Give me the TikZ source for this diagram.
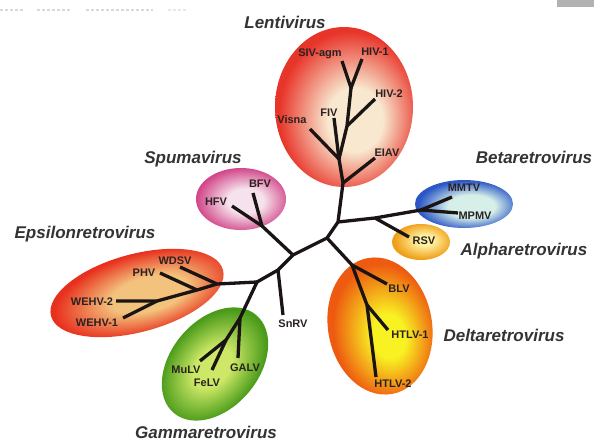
\documentclass[tikz,border=0pt]{standalone}
\usepackage{fontspec}
\setmainfont{Liberation Sans}
\definecolor{treecol}{HTML}{1A1414}
\definecolor{labcol}{HTML}{2A2222}
\definecolor{grpcol}{HTML}{333333}
\definecolor{lentiOut}{HTML}{E8352A}
\definecolor{lentiIn}{HTML}{F8E8CF}
\definecolor{spumaOut}{HTML}{D2488A}
\definecolor{spumaIn}{HTML}{F6E2EC}
\definecolor{betaOut}{HTML}{2A56C6}
\definecolor{betaIn}{HTML}{D6EFE8}
\definecolor{alphaOut}{HTML}{F0A018}
\definecolor{alphaIn}{HTML}{FFF2A4}
\definecolor{deltaOut}{HTML}{EE5A10}
\definecolor{deltaIn}{HTML}{F8F222}
\definecolor{epsOut}{HTML}{E8301E}
\definecolor{epsIn}{HTML}{F3C27C}
\definecolor{gamOut}{HTML}{4A9A1A}
\definecolor{gamIn}{HTML}{CCE866}
\pgfdeclareradialshading{lentish}{\pgfpoint{5bp}{-5bp}}{color(0bp)=(lentiIn); color(10bp)=(lentiIn); color(26bp)=(lentiOut); color(50bp)=(lentiOut)}
\pgfdeclareradialshading{spumash}{\pgfpoint{3bp}{-2bp}}{color(0bp)=(spumaIn); color(10bp)=(spumaIn); color(26bp)=(spumaOut); color(50bp)=(spumaOut)}
\pgfdeclareradialshading{betash}{\pgfpoint{5bp}{-3bp}}{color(0bp)=(betaIn); color(12bp)=(betaIn); color(26bp)=(betaOut); color(50bp)=(betaOut)}
\pgfdeclareradialshading{alphash}{\pgfpoint{4bp}{3bp}}{color(0bp)=(alphaIn); color(7bp)=(alphaIn); color(25bp)=(alphaOut); color(50bp)=(alphaOut)}
\pgfdeclareradialshading{deltash}{\pgfpoint{4bp}{-5bp}}{color(0bp)=(deltaIn); color(8bp)=(deltaIn); color(25bp)=(deltaOut); color(50bp)=(deltaOut)}
\pgfdeclareradialshading{epssh}{\pgfpoint{4bp}{-3bp}}{color(0bp)=(epsIn); color(11bp)=(epsIn); color(26bp)=(epsOut); color(50bp)=(epsOut)}
\pgfdeclareradialshading{gamsh}{\pgfpoint{-2bp}{0bp}}{color(0bp)=(gamIn); color(9bp)=(gamIn); color(25bp)=(gamOut); color(50bp)=(gamOut)}
\tikzset{
  lab/.style={font=\fontsize{11}{12}\selectfont\bfseries, text=labcol, inner sep=0pt, text height=8pt, text depth=0pt},
  grp/.style={font=\fontsize{17}{19}\selectfont\bfseries\itshape, text=grpcol, inner sep=0pt, text height=12pt, text depth=0pt},
  branch/.style={draw=treecol, line width=3.3pt, line join=round},
  faint/.style={draw=gray!30, line width=2pt, dash pattern=on 3pt off 2pt}
}
\begin{document}
\begin{tikzpicture}[x=1pt, y=-1pt]
\useasboundingbox (0,0) rectangle (594,441);
\fill[white] (0,0) rectangle (594,441);
% top fragments
\fill[gray!60] (557,0) rectangle (594,7);
\draw[faint] (0,10) -- (24,10);
\draw[faint] (37,10) -- (72,10);
\draw[faint] (86,10) -- (153,10);
\draw[faint, draw=gray!18] (168,10) -- (188,10);
% coloured clades
\shade[shading=lentish] (344,107) ellipse [x radius=69, y radius=80];
\shade[shading=spumash] (241,199) ellipse [x radius=45, y radius=31];
\shade[shading=betash] (464,204) ellipse [x radius=49, y radius=24];
\shade[shading=alphash] (421,242) ellipse [x radius=29, y radius=18];
\begin{scope}[transform canvas={rotate around={10:(380,326)}}]
\shade[shading=deltash] (380,326) ellipse [x radius=52, y radius=69];
\end{scope}
\begin{scope}[transform canvas={rotate around={15:(137,293)}}]
\shade[shading=epssh] (137,293) ellipse [x radius=89, y radius=39];
\end{scope}
\begin{scope}[transform canvas={rotate around={50:(215,364)}}]
\shade[shading=gamsh] (215,364) ellipse [x radius=64, y radius=44];
\end{scope}
% tree coordinates
\coordinate (tSIV) at (342,61);
\coordinate (tHIV1) at (362,59);
\coordinate (nHIV) at (351,88);
\coordinate (tHIV2) at (375,99);
\coordinate (nH2) at (347,126);
\coordinate (tFIV) at (334,118);
\coordinate (tVisna) at (310,129);
\coordinate (nVF) at (339,159);
\coordinate (tEIAV) at (375,158);
\coordinate (nE) at (343,183);
\coordinate (c1) at (338,222);
\coordinate (nR) at (375,218);
\coordinate (tRSV) at (409,237);
\coordinate (nB) at (421,210);
\coordinate (tMMTV) at (452,197);
\coordinate (tMPMV) at (458,213);
\coordinate (c2) at (327,238);
\coordinate (nD1) at (352,265);
\coordinate (tBLV) at (387,284);
\coordinate (nD2) at (367,305);
\coordinate (tHTLV1) at (388,330);
\coordinate (tHTLV2) at (376,377);
\coordinate (c3) at (293,255);
\coordinate (nS) at (262,226);
\coordinate (tBFV) at (253,193);
\coordinate (tHFV) at (232,206);
\coordinate (c4) at (278,270);
\coordinate (tSnRV) at (283,315);
\coordinate (c5) at (257,282);
\coordinate (nEp) at (217,284);
\coordinate (tWDSV) at (180,267);
\coordinate (nP) at (197,290);
\coordinate (tPHV) at (160,273);
\coordinate (nW) at (157,301);
\coordinate (tWEHV2) at (116,301);
\coordinate (tWEHV1) at (123,318);
\coordinate (nG) at (240,318);
\coordinate (tGALV) at (238,358);
\coordinate (nM) at (226,340);
\coordinate (tMuLV) at (200,361);
\coordinate (tFeLV) at (212,370);
% branches
\draw[branch] (tSIV) -- (nHIV) -- (tHIV1);
\draw[branch] (nHIV) -- (nH2) -- (nVF) -- (nE) -- (c1) -- (c2) -- (c3) -- (c4) -- (c5);
\draw[branch] (nH2) -- (tHIV2);
\draw[branch] (tVisna) -- (nVF) -- (tFIV);
\draw[branch] (nE) -- (tEIAV);
\draw[branch] (c1) -- (nR) -- (nB) -- (tMPMV);
\draw[branch] (nB) -- (tMMTV);
\draw[branch] (nR) -- (tRSV);
\draw[branch] (c2) -- (nD1) -- (nD2) -- (tHTLV2);
\draw[branch] (nD1) -- (tBLV);
\draw[branch] (nD2) -- (tHTLV1);
\draw[branch] (c3) -- (nS) -- (tHFV);
\draw[branch] (nS) -- (tBFV);
\draw[branch] (c4) -- (tSnRV);
\draw[branch] (c5) -- (nEp) -- (nP) -- (nW) -- (tWEHV2);
\draw[branch] (nW) -- (tWEHV1);
\draw[branch] (nP) -- (tPHV);
\draw[branch] (nEp) -- (tWDSV);
\draw[branch] (c5) -- (nG) -- (tGALV);
\draw[branch] (nG) -- (nM) -- (tMuLV);
\draw[branch] (nM) -- (tFeLV);
% virus labels
\node[lab] (lSIV) at (320,53) {SIV-agm};
\node[lab] (lHIV1) at (375,52) {HIV-1};
\node[lab] (lHIV2) at (389,94) {HIV-2};
\node[lab] (lFIV) at (329,113) {FIV};
\node[lab] (lVisna) at (292,120) {Visna};
\node[lab] (lEIAV) at (387,153) {EIAV};
\node[lab] (lBFV) at (260,183) {BFV};
\node[lab] (lHFV) at (216,201) {HFV};
\node[lab] (lMMTV) at (464,187) {MMTV};
\node[lab] (lMPMV) at (475,215) {MPMV};
\node[lab] (lRSV) at (424,240) {RSV};
\node[lab] (lBLV) at (399,288) {BLV};
\node[lab] (lHTLV1) at (410,334) {HTLV-1};
\node[lab] (lHTLV2) at (393,383) {HTLV-2};
\node[lab] (lSnRV) at (293,323) {SnRV};
\node[lab] (lWDSV) at (175,260) {WDSV};
\node[lab] (lPHV) at (144,272) {PHV};
\node[lab] (lWEHV2) at (92,301) {WEHV-2};
\node[lab] (lWEHV1) at (97,322) {WEHV-1};
\node[lab] (lMuLV) at (186,369) {MuLV};
\node[lab] (lFeLV) at (207,382) {FeLV};
\node[lab] (lGALV) at (245,367) {GALV};
% genus labels
\node[grp] (gLenti) at (285,23) {Lentivirus};
\node[grp] (gSpuma) at (193,157) {Spumavirus};
\node[grp] (gBeta) at (534,158) {Betaretrovirus};
\node[grp] (gAlpha) at (524,249) {Alpharetrovirus};
\node[grp] (gDelta) at (504,335) {Deltaretrovirus};
\node[grp] (gEps) at (85,232) {Epsilonretrovirus};
\node[grp] (gGamma) at (206,432) {Gammaretrovirus};
\end{tikzpicture}
\end{document}
